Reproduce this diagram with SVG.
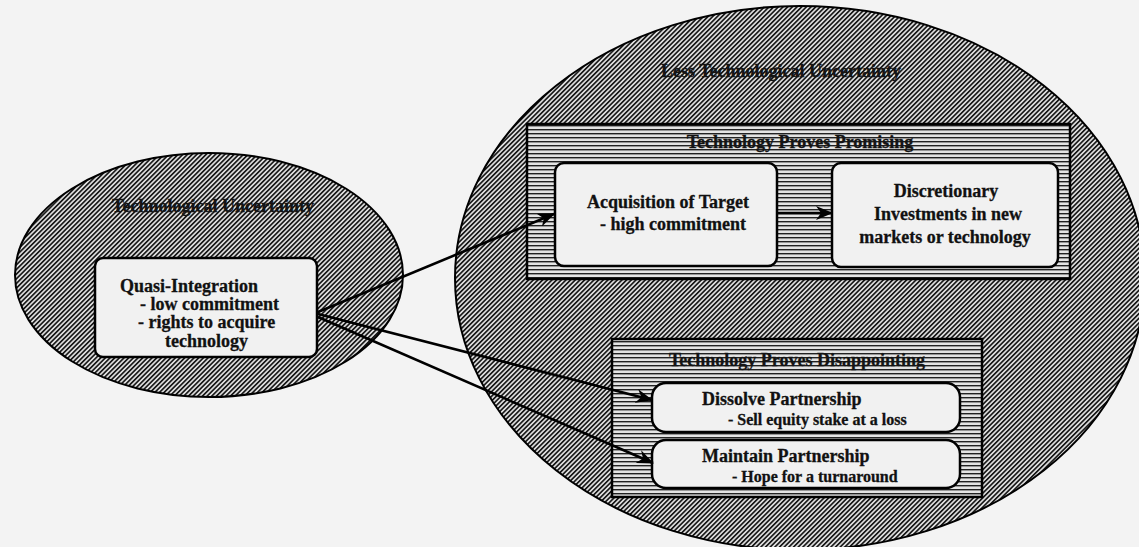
<svg xmlns="http://www.w3.org/2000/svg" width="1139" height="547" viewBox="0 0 1139 547">
<style>
  .t { font-family: "Liberation Serif", "Times New Roman", serif; font-weight: bold; fill: #111; stroke: #111; stroke-width: 0.3; }
  .title { font-size: 18px; fill: #151515; }
  .box { font-size: 18px; }
  .sub { font-size: 16px; }
  .oval { fill: url(#diag); stroke: #000; stroke-width: 2; }
  .frame { fill: url(#horiz); stroke: #000; stroke-width: 2.5; }
  .node { fill: #f1f1f1; stroke: #000; stroke-width: 2.5; }
  .conn { stroke: #000; stroke-width: 2.6; fill: none; }
</style>
<defs>
  <pattern id="diag" width="3.3" height="3.3" patternUnits="userSpaceOnUse" patternTransform="rotate(45)">
    <rect width="3.3" height="3.3" fill="#e2e2e2"/>
    <rect width="1.7" height="3.3" fill="#1a1a1a"/>
  </pattern>
  <pattern id="horiz" width="8" height="4" patternUnits="userSpaceOnUse">
    <rect width="8" height="4" fill="#e4e4e4"/>
    <rect width="8" height="1.4" y="1" fill="#222"/>
  </pattern>
  <marker id="ah" markerWidth="17" markerHeight="14" refX="16" refY="7" orient="auto" markerUnits="userSpaceOnUse">
    <path d="M0,0 L17,7 L0,14 L5,7 z" fill="#000"/>
  </marker>
</defs>
<rect width="1139" height="547" fill="#f3f3f3"/>

<g id="less-uncertainty">
  <ellipse class="oval" cx="800" cy="278" rx="345" ry="272"/>
  <text class="t title" x="781" y="77" text-anchor="middle">Less Technological Uncertainty</text>
</g>

<g id="uncertainty">
  <ellipse class="oval" cx="209" cy="275" rx="194" ry="122"/>
  <text class="t title" x="213" y="212" text-anchor="middle">Technological Uncertainty</text>
</g>

<g id="quasi-integration">
  <rect class="node" x="95" y="258" width="222" height="99" rx="8"/>
  <text class="t box" x="120" y="292">Quasi-Integration</text>
  <text class="t box" x="140" y="310">- low commitment</text>
  <text class="t box" x="138" y="328">- rights to acquire</text>
  <text class="t box" x="165" y="347">technology</text>
</g>

<g id="proves-promising">
  <rect class="frame" x="527" y="124" width="543" height="155"/>
  <text class="t title" x="800" y="148" text-anchor="middle">Technology Proves Promising</text>
</g>

<g id="acquisition">
  <rect class="node" x="555" y="163" width="222" height="103" rx="9"/>
  <text class="t box" x="668" y="208" text-anchor="middle">Acquisition of Target</text>
  <text class="t box" x="673" y="230" text-anchor="middle">- high commitment</text>
</g>

<g id="discretionary">
  <rect class="node" x="832" y="163" width="226" height="104" rx="9"/>
  <text class="t box" x="946" y="197" text-anchor="middle">Discretionary</text>
  <text class="t box" x="948" y="220" text-anchor="middle">Investments in new</text>
  <text class="t box" x="945" y="243" text-anchor="middle">markets or technology</text>
</g>

<g id="proves-disappointing">
  <rect class="frame" x="612" y="339" width="370" height="158"/>
  <text class="t title" x="797" y="366" text-anchor="middle">Technology Proves Disappointing</text>
</g>

<g id="dissolve">
  <rect class="node" x="652" y="383" width="308" height="49" rx="14"/>
  <text class="t box" x="702" y="405">Dissolve Partnership</text>
  <text class="t sub" x="728" y="425">- Sell equity stake at a loss</text>
</g>

<g id="maintain">
  <rect class="node" x="652" y="440" width="308" height="48" rx="14"/>
  <text class="t box" x="702" y="462">Maintain Partnership</text>
  <text class="t sub" x="732" y="482">- Hope for a turnaround</text>
</g>

<g id="connectors">
  <line class="conn" x1="318" y1="312" x2="554" y2="214" marker-end="url(#ah)"/>
  <line class="conn" x1="318" y1="314" x2="652" y2="400" marker-end="url(#ah)"/>
  <line class="conn" x1="318" y1="317" x2="653" y2="463" marker-end="url(#ah)"/>
  <line class="conn" x1="777" y1="213" x2="832" y2="213" marker-end="url(#ah)"/>
</g>
</svg>
